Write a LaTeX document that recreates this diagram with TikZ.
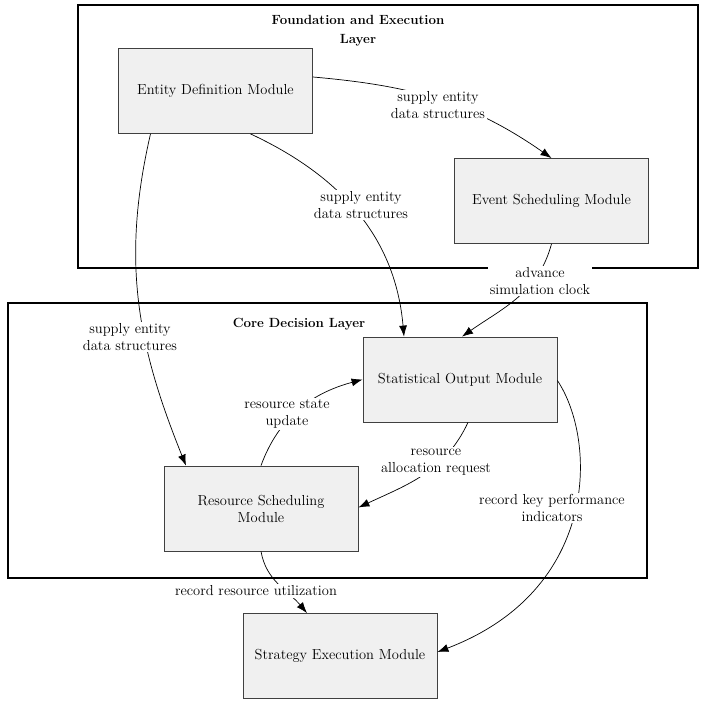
\documentclass[tikz,border=0pt]{standalone}
\usetikzlibrary{arrows.meta}
\begin{document}
\begin{tikzpicture}[x=1pt,y=-1pt,
  font=\fontsize{14.5}{17}\selectfont,
  layer/.style={draw=black,line width=1.2pt},
  module/.style={draw=black!75,fill=black!6,line width=0.8pt,align=center,inner sep=0pt,minimum width=194pt,minimum height=85pt},
  conn/.style={-{Latex[length=11pt,width=8pt]},line width=0.7pt},
  lbl/.style={fill=white,align=center,inner sep=1.5pt},
  ttl/.style={font=\fontsize{13.3}{19}\selectfont\bfseries,align=center}]
\useasboundingbox (0,0) rectangle (707,706);
% layers
\draw[layer] (78,5) rectangle (698,268);
\node[ttl] (t1) at (358,31) {Foundation and Execution\\Layer};
\draw[layer] (8,303) rectangle (647,578);
\node[ttl] (t2) at (299,324) {Core Decision Layer};
% modules
\node[module] (edm) at (215.5,91) {Entity Definition Module};
\node[module] (esm) at (551.5,201) {Event Scheduling Module};
\node[module] (som) at (460,379.5) {Statistical Output Module};
\node[module] (rsm) at (261,508.5) {Resource Scheduling\\Module};
\node[module] (sem) at (340,656) {Strategy Execution Module};
% connectors
\draw[conn] (edm.east |- 0,77) to[out=-5,in=145] (esm.north);
\draw[conn] ([xshift=35pt]edm.south) to[out=-25,in=95] ([xshift=-56pt]som.north);
\draw[conn] ([xshift=-65pt]edm.south) to[out=-103,in=112] ([xshift=-75pt]rsm.north);
\draw[conn] (esm.south) to[out=-105,in=35] ([xshift=2pt]som.north);
\draw[conn] (rsm.north) to[out=70,in=195] (som.west);
\draw[conn] ([xshift=8pt]som.south) to[out=-115,in=25] ([yshift=1pt]rsm.east);
\draw[conn] ([yshift=-1pt]som.east) .. controls (597,440) and (600,590) .. ([yshift=4pt]sem.east);
\draw[conn] (rsm.south) to[out=-80,in=130] ([xshift=-33pt]sem.north);
% labels
\node[lbl] (l1) at (438,105) {supply entity\\data structures};
\node[lbl] (l2) at (361,205) {supply entity\\data structures};
\node[lbl] (l3) at (130,337) {supply entity\\data structures};
\node[lbl] (l4) at (540,281) {advance\\simulation clock};
\node[lbl] (l5) at (287,414) {resource state\\update};
\node[lbl] (l6) at (436,462) {resource\\allocation request};
\node[lbl] (l7) at (552,508) {record key performance\\indicators};
\node[lbl] (l8) at (256,591) {record resource utilization};
\end{tikzpicture}
\end{document}
